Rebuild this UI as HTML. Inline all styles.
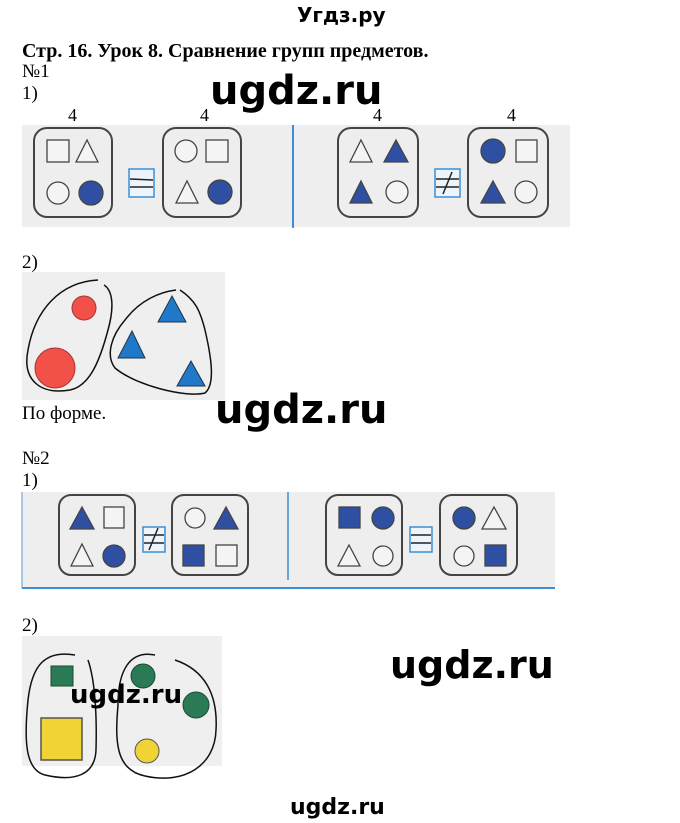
<!DOCTYPE html>
<html><head><meta charset="utf-8"><style>
html,body{margin:0;padding:0;background:#fff;width:680px;height:823px;overflow:hidden}
svg{display:block}
.s{font-family:"Liberation Serif",serif;fill:#000}
.w{font-family:"DejaVu Sans","Liberation Sans",sans-serif;font-weight:bold;fill:#000}
</style></head><body>
<svg width="680" height="823" viewBox="0 0 680 823" xmlns="http://www.w3.org/2000/svg">
<text class="w" x="297" y="22" font-size="20">Угдз.ру</text>
<text class="s" x="22" y="57" font-size="20" font-weight="bold">Стр. 16. Урок 8. Сравнение групп предметов.</text>
<text class="s" x="22" y="77" font-size="19">№1</text>
<text class="s" x="22" y="99" font-size="19">1)</text>
<text class="w" x="210" y="104" font-size="40">ugdz.ru</text>

<text class="s" x="68" y="121" font-size="18">4</text>
<text class="s" x="200" y="121" font-size="18">4</text>
<text class="s" x="373" y="121" font-size="18">4</text>
<text class="s" x="507" y="121" font-size="18">4</text>
<rect x="22" y="125" width="548" height="102" fill="#eeeeee"/>
<line x1="293" y1="125" x2="293" y2="228" stroke="#3c8fd6" stroke-width="2"/>
<g fill="none" stroke="#444" stroke-width="2">
<rect x="34" y="128" width="78" height="89" rx="13"/>
<rect x="163" y="128" width="78" height="89" rx="13"/>
<rect x="338" y="128" width="80" height="89" rx="13"/>
<rect x="468" y="128" width="80" height="89" rx="13"/>
</g>
<g stroke="#444" stroke-width="1.3">
<rect x="47" y="140" width="22" height="22" fill="#f4f4f4"/>
<polygon points="87,140 98,162 76,162" fill="#f4f4f4"/>
<circle cx="58" cy="193" r="11" fill="#f4f4f4"/>
<circle cx="91" cy="193" r="12" fill="#2f4fa3"/>
<circle cx="186" cy="151" r="11" fill="#f4f4f4"/>
<rect x="206" y="140" width="22" height="22" fill="#f4f4f4"/>
<polygon points="187,181 198,203 176,203" fill="#f4f4f4"/>
<circle cx="220" cy="192" r="12" fill="#2f4fa3"/>
<polygon points="361,140 372,162 350,162" fill="#f4f4f4"/>
<polygon points="396,140 408,162 384,162" fill="#2f4fa3"/>
<polygon points="361,181 372,203 350,203" fill="#2f4fa3"/>
<circle cx="397" cy="192" r="11" fill="#f4f4f4"/>
<circle cx="493" cy="151" r="12" fill="#2f4fa3"/>
<rect x="516" y="140" width="21" height="22" fill="#f4f4f4"/>
<polygon points="493,181 505,203 481,203" fill="#2f4fa3"/>
<circle cx="526" cy="192" r="11" fill="#f4f4f4"/>
</g>
<rect x="129" y="169" width="25" height="28" fill="#eef4fb" stroke="#3c8fd6" stroke-width="1.5"/>
<line x1="130" y1="179" x2="153" y2="180" stroke="#222" stroke-width="1.5"/>
<line x1="130" y1="187" x2="153" y2="187" stroke="#222" stroke-width="1.5"/>
<rect x="435" y="169" width="25" height="28" fill="#eef4fb" stroke="#3c8fd6" stroke-width="1.5"/>
<line x1="436" y1="179" x2="459" y2="179" stroke="#222" stroke-width="1.5"/>
<line x1="436" y1="187" x2="459" y2="187" stroke="#222" stroke-width="1.5"/>
<line x1="443" y1="194" x2="452" y2="172" stroke="#222" stroke-width="1.5"/>

<text class="s" x="22" y="268" font-size="19">2)</text>
<rect x="22" y="272" width="203" height="128" fill="#efefef"/>
<circle cx="84" cy="308" r="12" fill="#f2514a" stroke="#a33" stroke-width="1"/>
<circle cx="55" cy="368" r="20" fill="#f2514a" stroke="#a33" stroke-width="1"/>
<polygon points="172,296 186,322 158,322" fill="#1f78c8" stroke="#234" stroke-width="1"/>
<polygon points="132,331 145,358 118,358" fill="#1f78c8" stroke="#234" stroke-width="1"/>
<polygon points="191,361 205,386 177,386" fill="#1f78c8" stroke="#234" stroke-width="1"/>
<g fill="none" stroke="#111" stroke-width="1.5">
<path d="M98,280 C60,282 35,310 28,350 C22,380 40,395 70,390 C90,386 100,360 108,330 C115,305 112,290 104,285"/>
<path d="M176,290 C160,292 140,300 125,320 C112,335 105,355 115,368 C135,385 185,398 205,393 C215,385 212,360 205,330 C200,310 195,300 180,290"/>
</g>
<text class="s" x="22" y="419" font-size="19">По форме.</text>
<text class="w" x="215" y="423" font-size="40">ugdz.ru</text>

<text class="s" x="22" y="464" font-size="19">№2</text>
<text class="s" x="22" y="486" font-size="19">1)</text>
<rect x="22" y="492" width="533" height="96" fill="#eeeeee"/>
<line x1="22" y1="492" x2="22" y2="588" stroke="#8fb8df" stroke-width="1.5"/>
<line x1="22" y1="588" x2="555" y2="588" stroke="#3c8fd6" stroke-width="2"/>
<line x1="288" y1="492" x2="288" y2="580" stroke="#3c8fd6" stroke-width="1.5"/>
<g fill="none" stroke="#444" stroke-width="2">
<rect x="59" y="495" width="76" height="80" rx="12"/>
<rect x="172" y="495" width="76" height="80" rx="12"/>
<rect x="326" y="495" width="76" height="80" rx="12"/>
<rect x="440" y="495" width="77" height="80" rx="12"/>
</g>
<g stroke="#444" stroke-width="1.3">
<polygon points="82,507 94,529 70,529" fill="#2f4fa3"/>
<rect x="104" y="507" width="20" height="21" fill="#f4f4f4"/>
<polygon points="82,544 93,566 71,566" fill="#f4f4f4"/>
<circle cx="114" cy="556" r="11" fill="#2f4fa3"/>
<circle cx="195" cy="518" r="10" fill="#f4f4f4"/>
<polygon points="226,507 238,529 214,529" fill="#2f4fa3"/>
<rect x="183" y="545" width="21" height="21" fill="#2f4fa3"/>
<rect x="216" y="545" width="21" height="21" fill="#f4f4f4"/>
<rect x="339" y="507" width="21" height="21" fill="#2f4fa3"/>
<circle cx="383" cy="518" r="11" fill="#2f4fa3"/>
<polygon points="349,545 360,566 338,566" fill="#f4f4f4"/>
<circle cx="383" cy="556" r="10" fill="#f4f4f4"/>
<circle cx="464" cy="518" r="11" fill="#2f4fa3"/>
<polygon points="494,507 506,529 482,529" fill="#f4f4f4"/>
<circle cx="464" cy="556" r="10" fill="#f4f4f4"/>
<rect x="485" y="545" width="21" height="21" fill="#2f4fa3"/>
</g>
<rect x="143" y="527" width="22" height="25" fill="#eef4fb" stroke="#3c8fd6" stroke-width="1.5"/>
<line x1="144" y1="535" x2="164" y2="535" stroke="#222" stroke-width="1.5"/>
<line x1="144" y1="543" x2="164" y2="543" stroke="#222" stroke-width="1.5"/>
<line x1="149" y1="550" x2="158" y2="528" stroke="#222" stroke-width="1.5"/>
<rect x="410" y="527" width="22" height="25" fill="#eef4fb" stroke="#3c8fd6" stroke-width="1.5"/>
<line x1="411" y1="535" x2="431" y2="535" stroke="#222" stroke-width="1.5"/>
<line x1="411" y1="543" x2="431" y2="543" stroke="#222" stroke-width="1.5"/>

<text class="s" x="22" y="631" font-size="19">2)</text>
<rect x="22" y="636" width="200" height="130" fill="#efefef"/>
<rect x="51" y="666" width="22" height="20" fill="#2a7a55" stroke="#1a4a35" stroke-width="1"/>
<rect x="41" y="718" width="41" height="42" fill="#f0d334" stroke="#555" stroke-width="1.5"/>
<circle cx="143" cy="676" r="12" fill="#2a7a55" stroke="#1a4a35" stroke-width="1"/>
<circle cx="196" cy="705" r="13" fill="#2a7a55" stroke="#1a4a35" stroke-width="1"/>
<circle cx="147" cy="751" r="12" fill="#f0d334" stroke="#555" stroke-width="1"/>
<g fill="none" stroke="#111" stroke-width="1.5">
<path d="M75,655 C45,650 32,665 28,700 C24,740 25,770 45,775 C75,782 95,775 96,750 C97,715 95,680 88,660"/>
<path d="M155,655 C130,650 118,670 118,705 C115,740 115,770 145,776 C185,785 215,765 216,730 C218,695 205,670 175,660"/>
</g>
<text class="w" x="70" y="703" font-size="26">ugdz.ru</text>
<text class="w" x="390" y="678" font-size="38">ugdz.ru</text>
<text class="w" x="290" y="814" font-size="22">ugdz.ru</text>
</svg>
</body></html>
